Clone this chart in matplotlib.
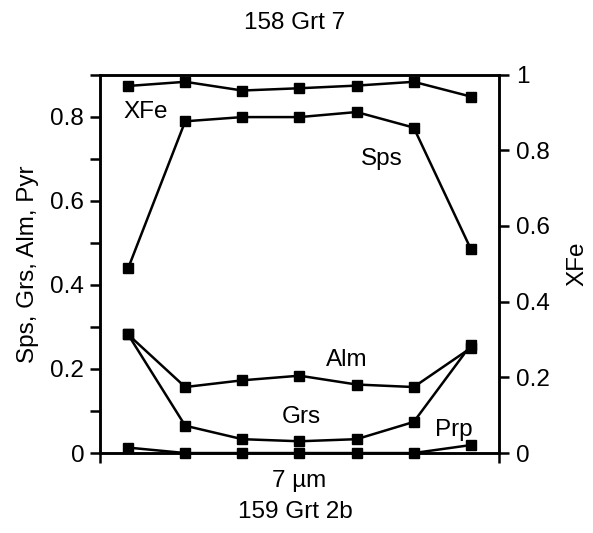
import matplotlib
matplotlib.use("Agg")
import matplotlib.pyplot as plt
from matplotlib.ticker import MultipleLocator, NullFormatter

plt.rcParams['font.family'] = ['Liberation Sans', 'DejaVu Sans']
FS = 17.5

points = [1, 2, 3, 4, 5, 6, 7]
sps = [0.439, 0.789, 0.799, 0.799, 0.811, 0.774, 0.485]
alm = [0.282, 0.157, 0.173, 0.184, 0.163, 0.157, 0.250]
grs = [0.282, 0.065, 0.033, 0.028, 0.033, 0.074, 0.257]
prp = [0.013, 0.0, 0.0, 0.0, 0.0, 0.0, 0.019]
xfe = [0.970, 0.981, 0.958, 0.964, 0.971, 0.981, 0.942]

labels = {"XFe": (1.30, 0.796), "Sps": (5.44, 0.686), "Alm": (4.82, 0.207),
          "Grs": (4.04, 0.0705), "Prp": (6.70, 0.040)}

fig = plt.figure(figsize=(5.93, 5.33), dpi=100)
ax = fig.add_axes([0.1678, 0.150, 0.6744, 0.710])
ax2 = ax.twinx()

style = dict(color='black', lw=1.8, marker='s', ms=6.5, mfc='black', mec='black', clip_on=False)
for s in (sps, alm, grs, prp):
    ax.plot(points, s, **style)
ax2.plot(points, xfe, **style)

ax.set_xlim(0.5, 7.5)
ax.set_ylim(0, 0.9)
ax2.set_ylim(0, 1)

ax.yaxis.set_major_locator(MultipleLocator(0.2))
ax.yaxis.set_minor_locator(MultipleLocator(0.1))
ax.yaxis.set_minor_formatter(NullFormatter())
ax.set_xticks([0.5, 7.5])
ax.set_xticklabels([])

def fmt(v, pos):
    if abs(v) < 1e-9:
        return "0"
    if abs(v - round(v)) < 1e-9:
        return "%d" % round(v)
    return ("%.1f" % v)

ax.yaxis.set_major_formatter(plt.FuncFormatter(fmt))
ax2.yaxis.set_major_locator(MultipleLocator(0.2))
ax2.yaxis.set_major_formatter(plt.FuncFormatter(fmt))

for a in (ax, ax2):
    for sp in a.spines.values():
        sp.set_linewidth(1.8)
    a.tick_params(which='both', direction='out', length=7, width=1.8, labelsize=FS, color='black')
ax.tick_params(axis='y', which='both', pad=4)
ax2.tick_params(axis='y', pad=5)

ax.set_ylabel("Sps, Grs, Alm, Pyr", fontsize=FS, labelpad=8)
ax2.set_ylabel("XFe", fontsize=FS, labelpad=12)
ax.set_xlabel("7 µm", fontsize=FS, labelpad=2)
fig.text(0.4975, 1 - 23 / 533, "158 Grt 7", fontsize=FS, ha='center', va='center')
fig.text(0.4975, 1 - 512 / 533, "159 Grt 2b", fontsize=FS, ha='center', va='center')

for t, (x, y) in labels.items():
    ax.text(x, y, t, fontsize=FS, ha='center', va='baseline')

fig.savefig("out.png", dpi=100)
